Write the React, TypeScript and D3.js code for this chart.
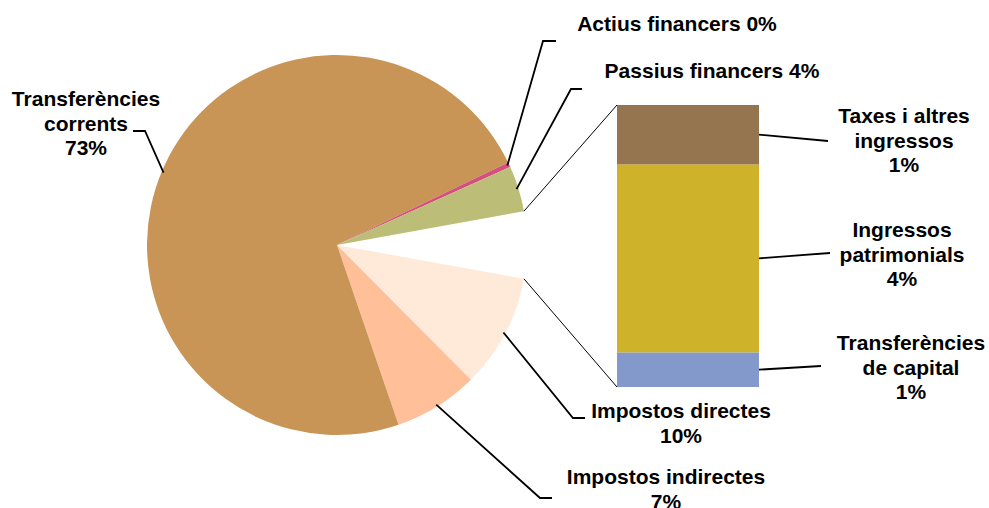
import React from "react";
import * as d3 from "d3";

const pieNames = ["Altres", "Impostos directes", "Impostos indirectes", "Transferències corrents", "Actius financers", "Passius financers"];
const pieValues = [0, 9.7, 7.2, 73.1, 0.4, 3.9];
const pieColors = ["none", "#FFE9D8", "#FFBF99", "#C99556", "#D34F7C", "#BCBD76"];

const barNames = ["Transferències de capital", "Ingressos patrimonials", "Taxes i altres ingressos"];
const barValues = [0.7, 3.8, 1.2];
const barColors = ["#8399CB", "#CEB22A", "#957550"];

const pieLabelLines = [
  [],
  ["Impostos directes", "10%"],
  ["Impostos indirectes", "7%"],
  ["Transferències", "corrents", "73%"],
  ["Actius financers 0%"],
  ["Passius financers 4%"],
];
const barLabelLines = [
  ["Transferències", "de capital", "1%"],
  ["Ingressos", "patrimonials", "4%"],
  ["Taxes i altres", "ingressos", "1%"],
];

const W = 989, H = 508;
const cx = 337, cy = 245, R = 190;
const FONT = "'Liberation Sans', Arial, sans-serif";
const FS = 21;
const LH = 24.5;

// label layout (elbow point, horizontal end, text anchor center, first baseline)
const pieLabelLayout = [
  null,
  { elbow: [573, 418], end: [585, 418], tx: 681, ty: 418 },
  { elbow: [540, 498], end: [552, 498], tx: 666, ty: 484 },
  { elbow: [145, 131], end: [133, 131], tx: 86, ty: 106 },
  { elbow: [543, 41], end: [556, 41], tx: 677, ty: 31 },
  { elbow: [571, 89], end: [582, 89], tx: 712, ty: 78 },
];
const barLabelLayout = [
  { end: [821, 366], tx: 911, ty: 350 },
  { end: [830, 253], tx: 902, ty: 237 },
  { end: [828, 141], tx: 904, ty: 123 },
];

export default function App() {
  const data = pieValues.map((v, i) => ({ name: pieNames[i], value: v, i }));
  data[0].value = d3.sum(barValues);
  const otherAngle = (data[0].value / d3.sum(data, (d) => d.value)) * 2 * Math.PI;
  const start = Math.PI / 2 - otherAngle / 2;
  const arcs = d3
    .pie<any>()
    .sort(null)
    .value((d) => d.value)
    .startAngle(start)
    .endAngle(start + 2 * Math.PI)(data);
  const arcGen = d3.arc<any>().innerRadius(0).outerRadius(R);
  const pt = (a: number, r: number) => [cx + r * Math.sin(a), cy - r * Math.cos(a)];

  const barX0 = 617, barX1 = 759;
  const y = d3.scaleLinear().domain([0, d3.sum(barValues)]).range([387, 105]);
  const cum = d3.cumsum(barValues);

  const other = arcs[0];
  const gTop = pt(other.startAngle, R);
  const gBot = pt(other.endAngle, R);

  const textBlock = (lines: string[], tx: number, ty: number, key: string) => (
    <text key={key} x={tx} y={ty} textAnchor="middle" fontFamily={FONT} fontWeight="bold" fontSize={FS} fill="#000">
      {lines.map((l, j) => (
        <tspan key={j} x={tx} y={ty + j * LH}>{l}</tspan>
      ))}
    </text>
  );

  return (
    <svg width={W} height={H} style={{ position: "absolute", left: 0, top: 0, background: "#fff" }}>
      <g transform={`translate(${cx},${cy})`}>
        {arcs.slice(1).map((a) => (
          <path key={a.data.name} d={arcGen(a) as string} fill={pieColors[a.data.i]} />
        ))}
      </g>
      {barValues.map((v, i) => (
        <rect key={barNames[i]} x={barX0} width={barX1 - barX0} y={y(cum[i])} height={y(cum[i] - v) - y(cum[i])} fill={barColors[i]} />
      ))}
      <line x1={gTop[0]} y1={gTop[1]} x2={barX0} y2={y(d3.sum(barValues))} stroke="#000" strokeWidth={1} />
      <line x1={gBot[0]} y1={gBot[1]} x2={barX0} y2={y(0)} stroke="#000" strokeWidth={1} />
      {arcs.slice(1).map((a) => {
        const L = pieLabelLayout[a.data.i]!;
        const mid = (a.startAngle + a.endAngle) / 2;
        const p = pt(mid, R - 2);
        return (
          <g key={"l" + a.data.i}>
            <polyline points={`${p[0]},${p[1]} ${L.elbow[0]},${L.elbow[1]} ${L.end[0]},${L.end[1]}`} fill="none" stroke="#000" strokeWidth={1.8} />
            {textBlock(pieLabelLines[a.data.i], L.tx, L.ty, "t" + a.data.i)}
          </g>
        );
      })}
      {barValues.map((v, i) => {
        const L = barLabelLayout[i];
        const my = y(cum[i] - v / 2);
        return (
          <g key={"b" + i}>
            <polyline points={`${barX1},${my} ${L.end[0]},${L.end[1]}`} fill="none" stroke="#000" strokeWidth={1.8} />
            {textBlock(barLabelLines[i], L.tx, L.ty, "bt" + i)}
          </g>
        );
      })}
    </svg>
  );
}
